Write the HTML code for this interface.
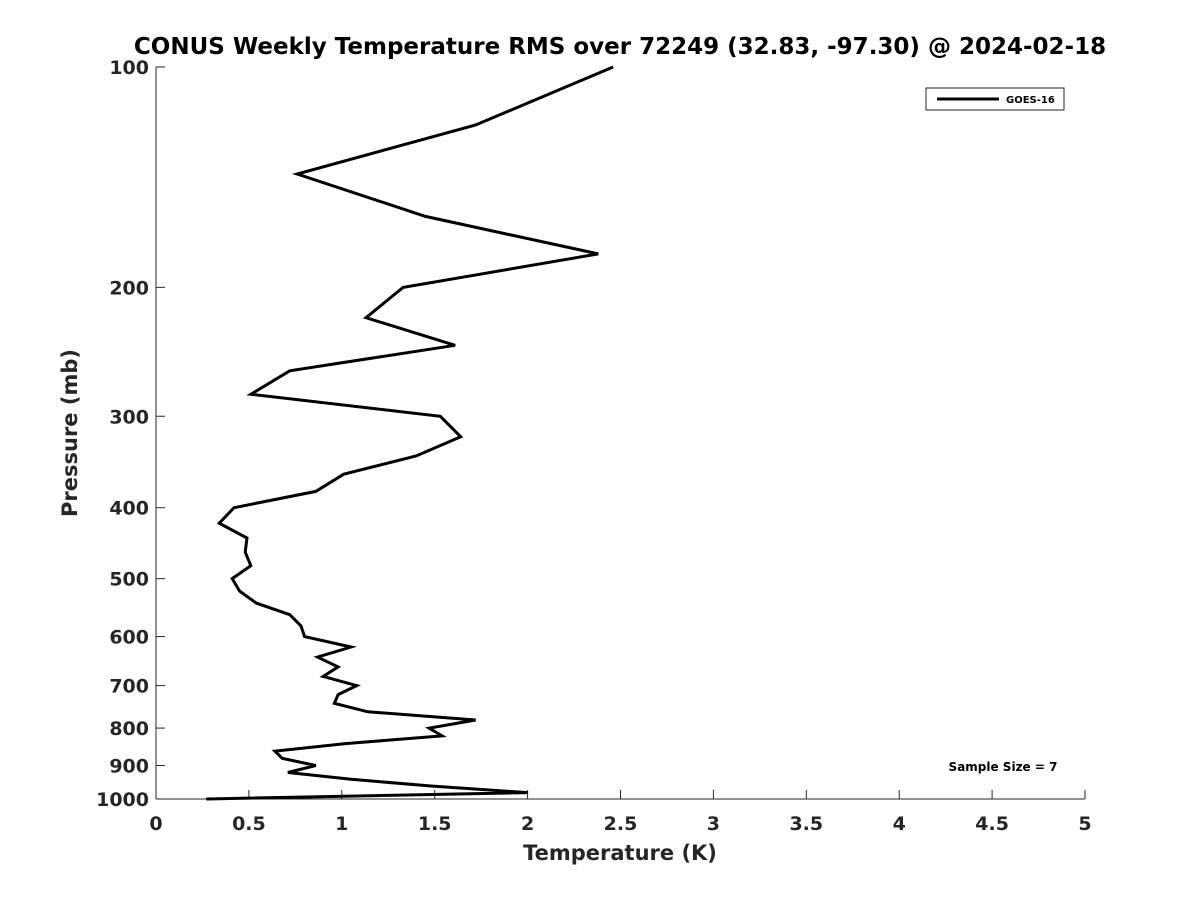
<!DOCTYPE html>
<html><head><meta charset="utf-8"><style>
html,body{margin:0;padding:0;background:#fff}
svg text{font-family:"DejaVu Sans","Liberation Sans",sans-serif;font-weight:bold;fill:#262626}
</style></head><body>
<svg id="chart" width="1200" height="900" viewBox="0 0 1200 900" xmlns="http://www.w3.org/2000/svg">
<rect width="1200" height="900" fill="#fff"/>
<text x="620" y="54" text-anchor="middle" font-size="23" style="fill:#000">CONUS Weekly Temperature RMS over 72249 (32.83, -97.30) @ 2024-02-18</text>
<g id="axes"></g>
<path id="series" fill="none" stroke="#000" stroke-width="3" stroke-linejoin="miter"/>
<g>
<rect x="926" y="88" width="138" height="22" fill="#fff" stroke="#262626" stroke-width="1"/>
<line x1="937" y1="99" x2="999" y2="99" stroke="#000" stroke-width="3"/>
<text x="1006" y="103" font-size="10" style="fill:#000">GOES-16</text>
</g>
<text x="1003" y="771" text-anchor="middle" font-size="12" style="fill:#000">Sample Size = 7</text>
<text x="620" y="860" text-anchor="middle" font-size="21">Temperature (K)</text>
<text transform="translate(77,433) rotate(-90)" text-anchor="middle" font-size="21">Pressure (mb)</text>
</svg>
<script>
const xTicks=[0,0.5,1,1.5,2,2.5,3,3.5,4,4.5,5];
const xTickLabels=["0","0.5","1","1.5","2","2.5","3","3.5","4","4.5","5"];
const yTicks=[100,200,300,400,500,600,700,800,900,1000];
const pressure=[100,120,140,160,180,200,220,240,260,280,300,320,340,360,380,400,420,440,460,480,500,520,540,560,580,600,620,640,660,680,700,720,740,760,780,800,820,840,860,880,900,920,940,960,980,1000];
const rms=[2.46,1.72,0.76,1.45,2.38,1.33,1.13,1.61,0.72,0.51,1.53,1.64,1.40,1.01,0.86,0.42,0.34,0.49,0.48,0.51,0.41,0.45,0.54,0.72,0.78,0.80,1.05,0.87,0.98,0.90,1.08,0.98,0.96,1.14,1.72,1.47,1.54,1.02,0.64,0.68,0.86,0.71,1.05,1.48,2.00,0.27];
const X0=156,X1=1085,Y0=67,Y1=799;
const sx=v=>X0+(v-0)/(5-0)*(X1-X0);
const sy=p=>Y0+(Math.log10(p)-2)/(3-2)*(Y1-Y0);
const NS="http://www.w3.org/2000/svg";
const ax=document.getElementById('axes');
function el(t,a,par){const e=document.createElementNS(NS,t);for(const k in a)e.setAttribute(k,a[k]);(par||ax).appendChild(e);return e;}
let l=el('line',{x1:X0,y1:Y0,x2:X0,y2:Y1,stroke:'#262626','stroke-width':1});


l=el('line',{x1:X0,y1:Y1,x2:X1,y2:Y1,stroke:'#262626','stroke-width':1});


xTicks.forEach((v,i)=>{
  const t=el('line',{x1:sx(v),y1:Y1,x2:sx(v),y2:Y1-9,stroke:'#262626','stroke-width':1});
  
  
  const tx=el('text',{x:sx(v),y:Y1+31,'text-anchor':'middle','font-size':19});
  tx.textContent=xTickLabels[i];
  
  
});
yTicks.forEach(p=>{
  const t=el('line',{x1:X0,y1:sy(p),x2:X0+9,y2:sy(p),stroke:'#262626','stroke-width':1});
  
  
  const tx=el('text',{x:X0-7,y:sy(p)+7,'text-anchor':'end','font-size':19});
  tx.textContent=String(p);
  
  
});
document.getElementById('series').setAttribute('d',pressure.map((p,i)=>(i?'L':'M')+sx(rms[i]).toFixed(1)+','+sy(p).toFixed(1)).join(' '));
</script>
</body></html>
